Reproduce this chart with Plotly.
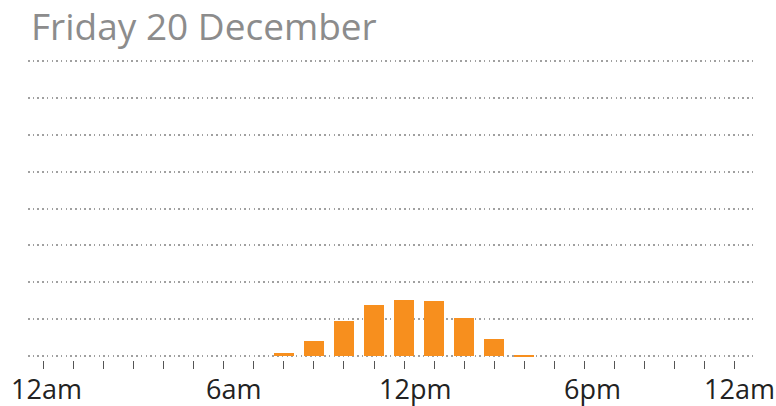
import plotly.graph_objects as go

# hourly values (hour of day -> amount)
hours = [8, 9, 10, 11, 12, 13, 14, 15, 16]
values = [0.09, 0.41, 0.95, 1.38, 1.53, 1.5, 1.05, 0.46, 0.02]

tick_hours = list(range(24))
label_hours = [0, 6, 12, 18, 24]
label_text = ["12am", "6am", "12pm", "6pm", "12am"]
label_shift = [3, 10, 11, 8, -25]  # labels sit slightly off the ticks

title_text = "Friday 20 December"

x_range = [-0.53, 23.63]
y_range = [-0.1, 8.1]

fig = go.Figure()
fig.add_trace(go.Bar(
    x=hours,
    y=values,
    width=0.65,
    marker=dict(color='rgb(247, 143, 30)', line=dict(width=0)),
    hoverinfo='skip',
))

# hour labels placed in paper coords so the last one (24h) is not dropped
for h, t, s in zip(label_hours, label_text, label_shift):
    fig.add_annotation(
        x=(h - x_range[0]) / (x_range[1] - x_range[0]), xref='paper',
        y=-0.094, yref='paper',
        text=t, showarrow=False, xshift=s,
        xanchor='center', yanchor='middle',
        font=dict(size=27, color='#222222', family='Open Sans'),
    )

fig.update_layout(
    title=dict(
        text=title_text,
        x=31 / 776, xref='container', xanchor='left',
        y=1 - 27 / 406, yref='container', yanchor='middle',
        font=dict(size=37, color='#8c8c8c', family='Open Sans'),
    ),
    width=776,
    height=406,
    margin=dict(l=28, r=23, t=57, b=46),
    plot_bgcolor='white',
    paper_bgcolor='white',
    showlegend=False,
    bargap=0,
)

fig.update_xaxes(
    range=x_range,
    tickvals=tick_hours,
    showticklabels=False,
    ticks='outside',
    ticklen=8,
    tickwidth=1,
    tickcolor='#555555',
    showgrid=False,
    zeroline=False,
    showline=False,
)

fig.update_yaxes(
    range=y_range,
    tickvals=list(range(9)),
    showticklabels=False,
    ticks='',
    showgrid=True,
    gridcolor='#a0a0a0',
    gridwidth=1.5,
    griddash='1.5px,3.2px',
    zeroline=False,
    showline=False,
)

fig.write_html(
    "out.html",
    config={'displayModeBar': False},
    post_script="document.body.style.margin='0';",
)
